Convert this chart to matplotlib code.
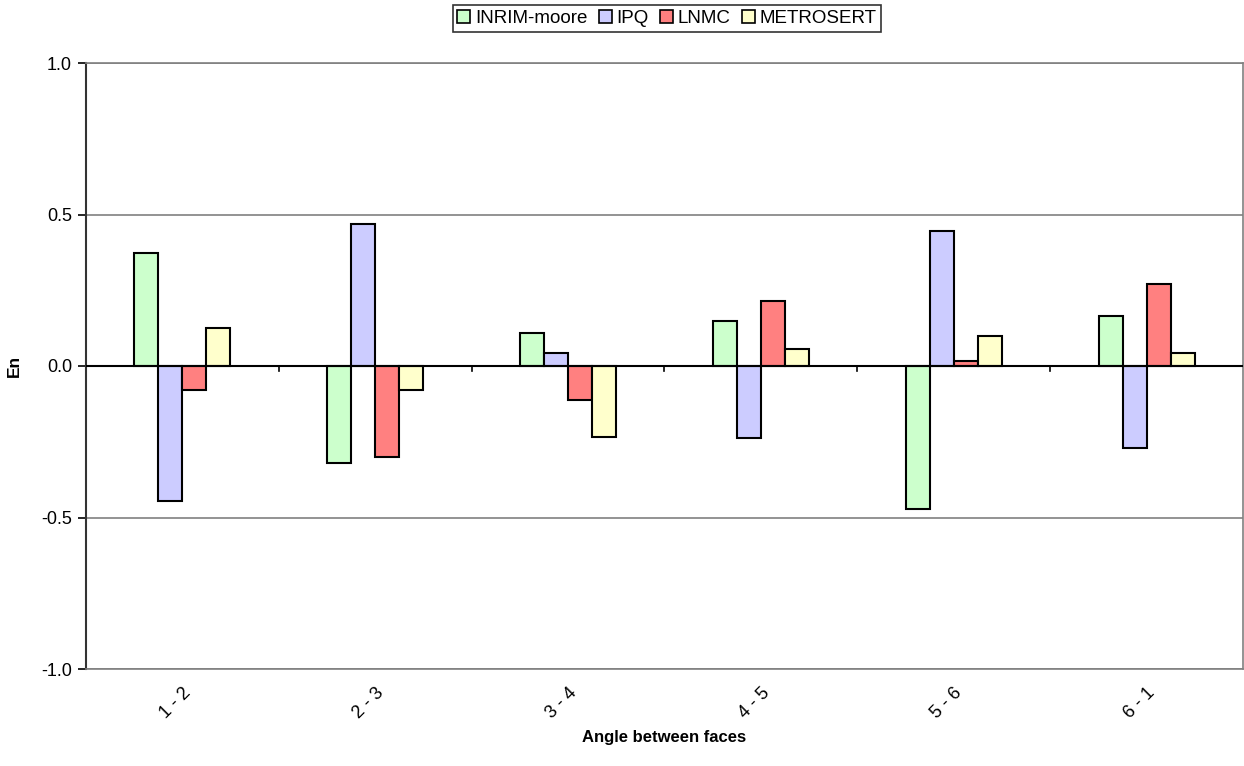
import numpy as np
import matplotlib
matplotlib.use("Agg")
import matplotlib.pyplot as plt
from matplotlib.patches import Patch

plt.rcParams['font.family'] = ['Liberation Sans', 'DejaVu Sans']

categories = ["1 - 2", "2 - 3", "3 - 4", "4 - 5", "5 - 6", "6 - 1"]
series_names = ["INRIM-moore", "IPQ", "LNMC", "METROSERT"]
inrim = [0.372, -0.319, 0.110, 0.149, -0.472, 0.166]
ipq = [-0.445, 0.468, 0.043, -0.238, 0.446, -0.270]
lnmc = [-0.080, -0.301, -0.112, 0.213, 0.016, 0.272]
metrosert = [0.124, -0.080, -0.235, 0.057, 0.100, 0.044]
y_ticks = [-1.0, -0.5, 0.0, 0.5, 1.0]

series = [inrim, ipq, lnmc, metrosert]
colors = ["#CCFFCC", "#CCCCFF", "#FF8080", "#FFFFCC"]

fig = plt.figure(figsize=(12.44, 7.66), dpi=100)
ax = fig.add_axes([86 / 1244, 1 - 669 / 766, 1157 / 1244, 606 / 766])

n = len(categories)
x = np.arange(n)
width = 24 / 193
for i, (vals, col) in enumerate(zip(series, colors)):
    offs = (i - 1.5) * width
    ax.bar(x + offs, vals, width=width, color=col, edgecolor="black",
           linewidth=1.5, zorder=3)

ax.set_xlim(-0.5, n - 0.5)
ax.set_ylim(-1.0, 1.0)

# horizontal gridlines
for yv in y_ticks:
    if yv != 0:
        ax.axhline(yv, color="#808080", linewidth=1.2, zorder=1)
ax.axhline(0, color="black", linewidth=1.5, zorder=4)

# category boundary tick marks on the zero line
for b in np.arange(0.5, n - 0.5, 1.0):
    ax.plot([b, b], [0, -0.018], color="black", linewidth=1.2, zorder=4,
            clip_on=False)

ax.set_yticks(y_ticks)
ax.set_yticklabels([f"{v:.1f}" for v in y_ticks], fontsize=13)
ax.tick_params(axis="y", direction="out", length=6, width=1.2, pad=4)

ax.set_xticks(x)
ax.set_xticklabels(categories, rotation=45, ha="right", va="top",
                   rotation_mode="anchor", fontsize=13)
ax.tick_params(axis="x", length=0, pad=11)

for side in ["top", "right", "bottom"]:
    ax.spines[side].set_color("#808080")
    ax.spines[side].set_linewidth(1.2)
ax.spines["left"].set_color("#333333")
ax.spines["left"].set_linewidth(1.5)

ax.set_xlabel("Angle between faces", fontsize=12, fontweight="bold", labelpad=6)
ax.set_ylabel("En", fontsize=12.5, fontweight="bold", labelpad=14)

handles = [Patch(facecolor=c, edgecolor="black", linewidth=1.2) for c in colors]
leg = fig.legend(handles, series_names, loc="upper center",
                 bbox_to_anchor=(667 / 1244, 1 - 5 / 766), ncol=4,
                 fontsize=13.5, frameon=True, fancybox=False,
                 handlelength=0.7, handleheight=0.7, handletextpad=0.25,
                 columnspacing=0.6, borderpad=0.25, borderaxespad=0)
leg.get_frame().set_edgecolor("black")
leg.get_frame().set_linewidth(1.2)

fig.savefig("out.png", dpi=100)
